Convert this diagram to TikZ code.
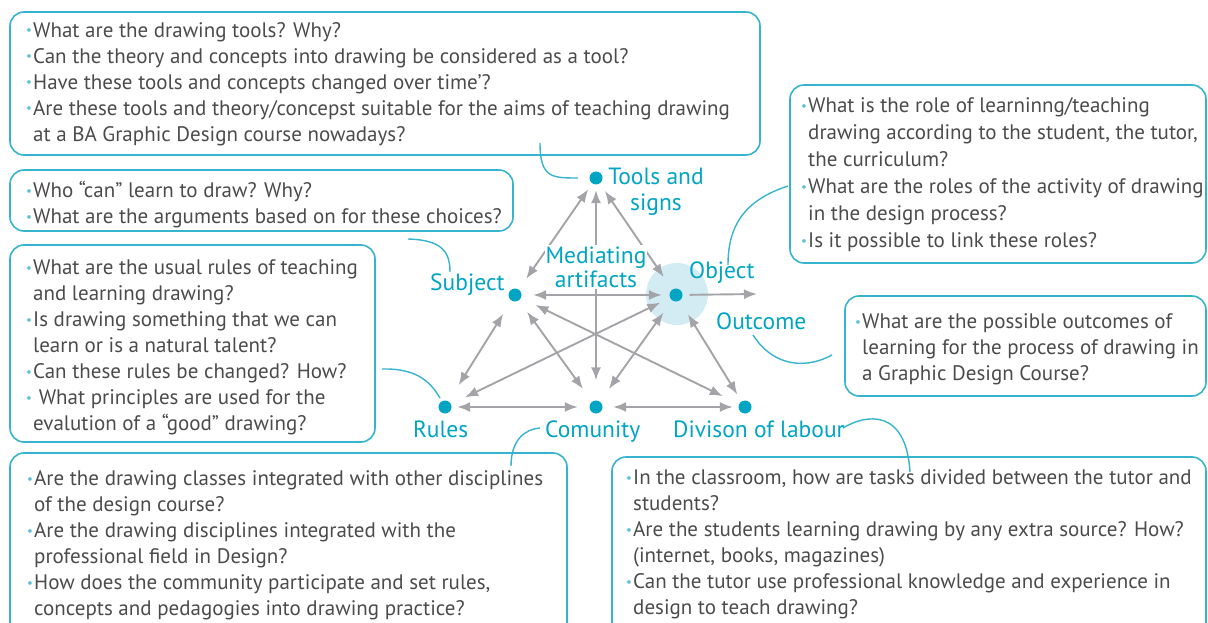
\documentclass[tikz,border=0pt]{standalone}
\usepackage{fontspec}
\setmainfont{PT Sans}
\usetikzlibrary{arrows.meta}
\definecolor{frameblue}{HTML}{36B4CE}
\definecolor{labelblue}{HTML}{00A5C3}
\definecolor{bulletblue}{HTML}{5CC0D6}
\definecolor{arrowgrey}{HTML}{A4A4A8}
\definecolor{bodygrey}{HTML}{4B4B4D}
\definecolor{halo}{HTML}{D3ECF4}
% bullet and hanging indent for the question lists
\newcommand{\qb}{\makebox[7pt][l]{\textcolor{bulletblue}{\raisebox{2.2pt}{\scalebox{0.62}{•}}}}}
\newcommand{\qc}{\hspace*{7pt}}
\tikzset{
  qbox/.style={draw=frameblue, line width=1.6pt, rounded corners=14pt},
  qtext/.style={anchor=north west, align=left, text=bodygrey, inner sep=0pt,
                font=\fontsize{21}{26}\selectfont},
  lbl/.style={text=labelblue, inner sep=1pt, font=\fontsize{23.5}{26}\selectfont},
  dot/.style={circle, fill=labelblue, minimum size=13pt, inner sep=0pt},
  link/.style={draw=arrowgrey, line width=1.9pt,
               {Latex[length=13pt,width=10pt]}-{Latex[length=13pt,width=10pt]}},
  onelink/.style={draw=arrowgrey, line width=1.9pt, -{Latex[length=13pt,width=10pt]}},
  lead/.style={draw=frameblue, line width=1.4pt},
}
\begin{document}
\begin{tikzpicture}[x=1pt,y=-1pt]
\useasboundingbox (0,0) rectangle (1208,623);
\clip (0,0) rectangle (1208,623);

% ---------- question boxes ----------
\draw[qbox] (10,12) rectangle (760,155);
\node[qtext] (qtools) at (26,18.8) {\strut\qb What are the drawing tools? Why?\\
\qb Can the theory and concepts into drawing be considered as a tool?\\
\qb Have these tools and concepts changed over time’?\\
\qb Are these tools and theory/concepst suitable for the aims of teaching drawing\\
\qc at a BA Graphic Design course nowadays?};

\draw[qbox] (10,170) rectangle (513,231);
\node[qtext] (qsubject) at (26,178.8) {\strut\qb Who “can” learn to draw? Why?\\
\qb What are the arguments based on for these choices?};

\draw[qbox] (10,245) rectangle (375,442);
\node[qtext] (qrules) at (26,255.8) {\strut\qb What are the usual rules of teaching\\
\qc and learning drawing?\\
\qb Is drawing something that we can\\
\qc learn or is a natural talent?\\
\qb Can these rules be changed? How?\\
\qb\ What principles are used for the\\
\qc evalution of a “good” drawing?};

\draw[qbox] (10,453) rectangle (567,660);
\node[qtext] (qcommunity) at (27,466.8) {\strut\qb Are the drawing classes integrated with other disciplines\\
\qc of the design course?\\
\qb Are the drawing disciplines integrated with the\\
\qc professional field in Design?\\
\qb How does the community participate and set rules,\\
\qc concepts and pedagogies into drawing practice?};

\draw[qbox] (790,85) rectangle (1206,263);
\node[qtext, font=\fontsize{21}{27}\selectfont] (qobject) at (801,93.1) {\strut\qb What is the role of learninng/teaching\\
\qc drawing according to the student, the tutor,\\
\qc the curriculum?\\
\qb What are the roles of the activity of drawing\\
\qc in the design process?\\
\qb Is it possible to link these roles?};

\draw[qbox] (845,296) rectangle (1206,396);
\node[qtext] (qoutcome) at (855,309.8) {\strut\qb What are the possible outcomes of\\
\qc learning for the process of drawing in\\
\qc a Graphic Design Course?};

\draw[qbox] (612,457) rectangle (1206,660);
\node[qtext] (qlabour) at (626,465.8) {\strut\qb In the classroom, how are tasks divided between the tutor and\\
\qc students?\\
\qb Are the students learning drawing by any extra source? How?\\
\qc (internet, books, magazines)\\
\qb Can the tutor use professional knowledge and experience in\\
\qc design to teach drawing?};

% ---------- activity triangle ----------
\fill[halo] (677,294) circle (31pt);

\node[dot] (tools)     at (596,178) {};
\node[dot] (subject)   at (515,295) {};
\node[dot] (object)    at (676,295) {};
\node[dot] (rules)     at (445,407) {};
\node[dot] (community) at (596,407) {};
\node[dot] (labour)    at (745,407) {};
\coordinate (outcome) at (757,294);

\draw[link, shorten <=7pt,   shorten >=13pt]  (tools) -- (subject);
\draw[link, shorten <=5.5pt, shorten >=20pt]  (tools) -- (community);
\draw[link, shorten <=9pt,   shorten >=15pt]  (tools) -- (object);
\draw[link, shorten <=11.5pt,shorten >=7.5pt] (subject) -- (object);
\draw[link, shorten <=15.5pt,shorten >=19pt]  (subject) -- (rules);
\draw[link, shorten <=14pt,  shorten >=15.5pt](subject) -- (community);
\draw[link, shorten <=16pt,  shorten >=18pt]  (subject) -- (labour);
\draw[link, shorten <=10.7pt,shorten >=15.5pt](object) -- (rules);
\draw[link, shorten <=15pt,  shorten >=15.5pt](object) -- (community);
\draw[link, shorten <=16pt,  shorten >=8pt]   (object) -- (labour);
\draw[link, shorten <=5.5pt, shorten >=11.5pt](rules) -- (community);
\draw[link, shorten <=10.5pt,shorten >=5.5pt] (community) -- (labour);
\draw[onelink, shorten <=7pt] (object) -- (outcome);

% ---------- labels ----------
\node[lbl, anchor=north, align=center] (ltools) at (656,164.8) {\strut Tools and\\signs};
\node[lbl, anchor=north, align=center, fill=white, text depth=0pt,
      font=\fontsize{23.5}{24.5}\selectfont] (lmed) at (596,244.8) {\strut Mediating\\artifacts};
\node[lbl, anchor=base west] (lsubject) at (429,290) {Subject};
\node[lbl, anchor=base west] (lobject) at (688,278) {Object};
\node[lbl, anchor=base west] (loutcome) at (715,329) {Outcome};
\node[lbl, anchor=base west] (lrules) at (412,437) {Rules};
\node[lbl, anchor=base west] (lcommunity) at (544,437) {Comunity};
\node[lbl, anchor=base west] (llabour) at (672,437) {Divison of labour};

% ---------- leader curves from questions to labels ----------
\coordinate (a1) at (540,143);  \coordinate (a2) at (578,178);
\draw[lead] (a1) .. controls (540,178) and (552,178) .. (a2);
\coordinate (b1) at (408,239);  \coordinate (b2) at (450,272);
\draw[lead] (b1) .. controls (440,240) and (450,250) .. (b2);
\coordinate (c1) at (382,369);  \coordinate (c2) at (440,398);
\draw[lead] (c1) .. controls (420,368) and (432,385) .. (c2);
\coordinate (d1) at (511,466);  \coordinate (d2) at (540,428);
\draw[lead] (d1) .. controls (511,440) and (525,429) .. (d2);
\coordinate (e1) at (843,428);  \coordinate (e2) at (910,472);
\draw[lead] (e1) .. controls (866,414) and (906,408) .. (e2);
\coordinate (f1) at (788,186);  \coordinate (f2) at (728,265);
\draw[lead] (f1) .. controls (745,200) and (728,225) .. (f2);
\coordinate (g1) at (753,335);  \coordinate (g2) at (832,355);
\draw[lead] (g1) .. controls (770,362) and (800,372) .. (g2);
\end{tikzpicture}
\end{document}
